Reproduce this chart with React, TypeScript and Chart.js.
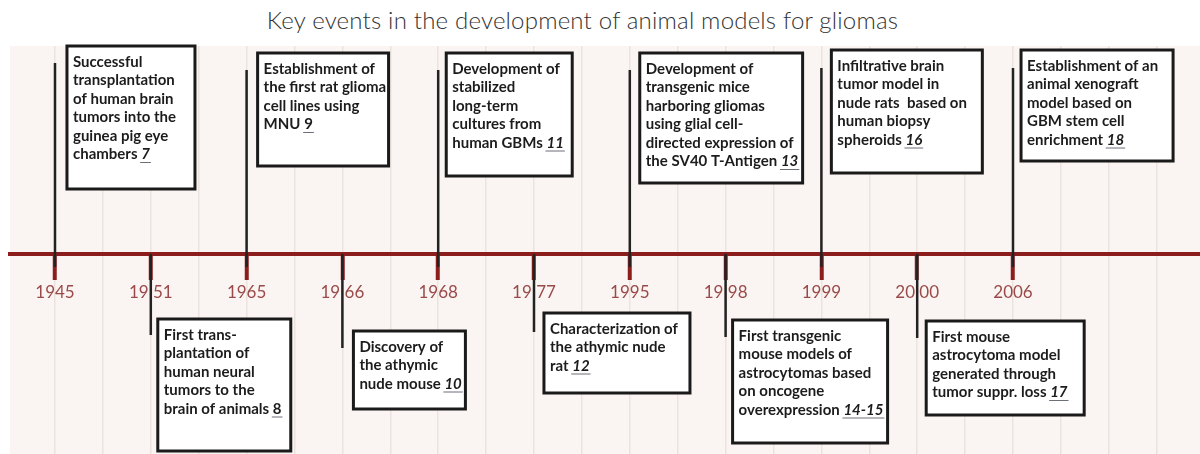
import React, { useEffect, useRef } from 'react';
import { Chart, registerables } from 'chart.js';

Chart.register(...registerables);

// ---------- data ----------
const chartTitle = 'Key events in the development of animal models for gliomas';

const years = ['1945', '1951', '1965', '1966', '1968', '1977', '1995', '1998', '1999', '2000', '2006'];
const yearLabels = ['1945', '19 51', '1965', '19 66', '1968', '19 77', '1995', '19 98', '1999', '20 00', '2006'];

// stem end (in the y units of the timeline, axis = 0; positive = above)
const stemEnds = [191, -81, 184, -94, 184, -78, 184, -83, 186, -84, 186];

const eventTexts: string[][] = [
  ['Successful', 'transplantation', 'of human brain', 'tumors into the', 'guinea pig eye', 'chambers '],
  ['First trans-', 'plantation of', 'human neural', 'tumors to the', 'brain of animals '],
  ['Establishment of', 'the first rat glioma', 'cell lines using', 'MNU '],
  ['Discovery of', 'the athymic', 'nude mouse '],
  ['Development of', 'stabilized', 'long-term', 'cultures from', 'human GBMs '],
  ['Characterization of', 'the athymic nude', 'rat '],
  ['Development of', 'transgenic mice', 'harboring gliomas', 'using glial cell-', 'directed expression of', 'the SV40 T-Antigen '],
  ['First transgenic', 'mouse models of', 'astrocytomas based', 'on oncogene', 'overexpression '],
  ['Infiltrative brain', 'tumor model in', 'nude rats  based on', 'human biopsy', 'spheroids '],
  ['First mouse', 'astrocytoma model', 'generated through', 'tumor suppr. loss '],
  ['Establishment of an', 'animal xenograft', 'model based on', 'GBM stem cell', 'enrichment '],
];
const eventRefs = ['7', '8', '9', '10', '11', '12', '13', '14-15', '16', '17', '18'];
const refItalic = [true, false, false, true, true, true, true, true, true, true, true];

// ---------- layout (scale units) ----------
const X_MIN = -0.4697;
const X_MAX = 11.952;
const Y_MIN = -200;
const Y_MAX = 208;
const STEM_BELOW = -13;
const boxDx = [0.125, 0.073, 0.115, 0.115, 0.084, 0.104, 0.104, 0.073, 0.104, 0.094, 0.084];
const boxW = [1.336, 1.388, 1.367, 1.169, 1.315, 1.524, 1.70, 1.618, 1.576, 1.649, 1.587];
const boxTop = [208, -65, 201, -77, 201, -59, 201, -66, 204, -67, 204];
const boxBottom = [65, -197, 88, -155, 78, -139, 71, -189, 81, -161, 93];

const stripeValues: number[] = [];
for (let k = 0; k < 24; k++) stripeValues.push(k * 0.5);

const AXIS_RED = '#8b1d1d';
const TEXT_FONT = 'Lato';

const isEventTick = (v: any) => Number.isInteger(v) && v >= 0 && v < years.length;

const bgPlugin = {
  id: 'areaBg',
  beforeDraw(chart: any) {
    const { ctx, chartArea } = chart;
    ctx.save();
    ctx.fillStyle = '#faf5f2';
    ctx.fillRect(chartArea.left, chartArea.top, chartArea.right - chartArea.left, chartArea.bottom - chartArea.top);
    ctx.restore();
  },
};

const boxPlugin = {
  id: 'eventBoxes',
  afterDatasetsDraw(chart: any) {
    const { ctx } = chart;
    const xs = chart.scales.x;
    const ys = chart.scales.y;
    ctx.save();
    eventTexts.forEach((lines, i) => {
      const left = xs.getPixelForValue(i + boxDx[i]);
      const right = xs.getPixelForValue(i + boxDx[i] + boxW[i]);
      const top = ys.getPixelForValue(boxTop[i]);
      const bottom = ys.getPixelForValue(boxBottom[i]);
      ctx.fillStyle = '#ffffff';
      ctx.fillRect(left, top, right - left, bottom - top);
      ctx.lineWidth = 3;
      ctx.strokeStyle = '#1a1a1a';
      ctx.strokeRect(left, top, right - left, bottom - top);
      ctx.textBaseline = 'middle';
      ctx.textAlign = 'left';
      lines.forEach((line, k) => {
        const ty = top + 16 + k * 18.5;
        ctx.font = `bold 15px ${TEXT_FONT}`;
        ctx.fillStyle = '#1c1c1c';
        ctx.fillText(line, left + 6, ty);
        if (k === lines.length - 1) {
          const w = ctx.measureText(line).width;
          ctx.font = `${refItalic[i] ? 'italic ' : ''}bold 15px ${TEXT_FONT}`;
          ctx.fillText(eventRefs[i], left + 6 + w, ty);
          const rw = ctx.measureText(eventRefs[i]).width;
          ctx.strokeStyle = '#6a6f78';
          ctx.lineWidth = 1;
          ctx.beginPath();
          ctx.moveTo(left + 6 + w - 1, ty + 8);
          ctx.lineTo(left + 6 + w + rw + 1, ty + 8);
          ctx.stroke();
        }
      });
    });
    ctx.restore();
  },
};

export default function App() {
  const canvasRef = useRef<HTMLCanvasElement | null>(null);

  useEffect(() => {
    if (!canvasRef.current) return;
    const stemData: any[] = [];
    stemEnds.forEach((end, i) => {
      stemData.push({ x: i, y: end > 0 ? STEM_BELOW : 0 });
      stemData.push({ x: i, y: end });
      stemData.push({ x: i, y: null });
    });

    const chart = new Chart(canvasRef.current, {
      type: 'scatter',
      data: {
        datasets: [
          {
            label: 'stems',
            data: stemData,
            showLine: true,
            spanGaps: false,
            borderColor: '#222222',
            borderWidth: 2.5,
            pointRadius: 0,
            pointHoverRadius: 0,
          } as any,
        ],
      },
      options: {
        responsive: false,
        animation: false,
        devicePixelRatio: 1,
        events: [],
        layout: { padding: { left: 10, right: 0, top: 46, bottom: 0 } },
        plugins: {
          legend: { display: false },
          tooltip: { enabled: false },
          title: { display: false },
        },
        scales: {
          x: {
            type: 'linear',
            position: { y: 0 } as any,
            min: X_MIN,
            max: X_MAX,
            afterBuildTicks: (s: any) => {
              s.ticks = stripeValues.map((v) => ({ value: v }));
            },
            border: { display: true, color: AXIS_RED, width: 4 },
            grid: {
              display: true,
              drawOnChartArea: true,
              color: '#ebe3de',
              lineWidth: 1.5,
              drawTicks: true,
              tickLength: 24,
              tickColor: (c: any) => (isEventTick(c.tick?.value) ? AXIS_RED : 'rgba(0,0,0,0)'),
              tickWidth: (c: any) => (isEventTick(c.tick?.value) ? 4 : 0),
            } as any,
            ticks: {
              autoSkip: false,
              maxRotation: 0,
              minRotation: 0,
              padding: 4,
              color: '#9a4a4a',
              font: { family: TEXT_FONT, size: 17 },
              callback: (v: any) => {
                const n = Number(v);
                return isEventTick(n) ? yearLabels[n] : '';
              },
            },
          },
          y: {
            type: 'linear',
            display: false,
            min: Y_MIN,
            max: Y_MAX,
          },
        },
      },
      plugins: [bgPlugin, boxPlugin],
    });
    return () => chart.destroy();
  }, []);

  return (
    <div style={{ position: 'fixed', left: 0, top: 0, width: 1200, height: 454, background: '#ffffff' }}>
      <div
        style={{
          position: 'absolute',
          left: 0,
          top: 4,
          width: 1165,
          textAlign: 'center',
          fontFamily: 'Lato, sans-serif',
          fontWeight: 300,
          fontSize: 24,
          lineHeight: '32px',
          color: '#333333',
          letterSpacing: '0.2px',
          whiteSpace: 'nowrap',
        }}
      >
        {chartTitle}
      </div>
      <canvas
        ref={canvasRef}
        width={1200}
        height={454}
        style={{ position: 'absolute', left: 0, top: 0 }}
        aria-label={`${chartTitle}: ${years.join(', ')}`}
      />
    </div>
  );
}
